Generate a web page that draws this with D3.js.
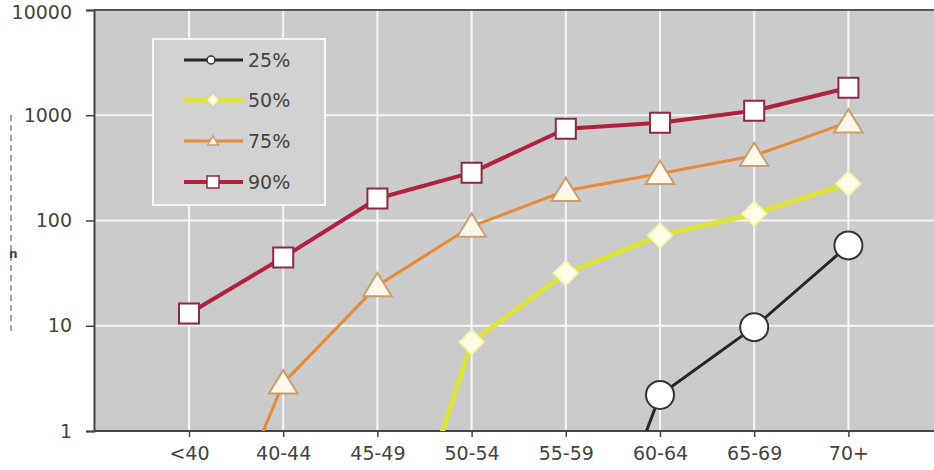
<!DOCTYPE html>
<html lang="en">
<head>
<meta charset="utf-8">
<title>Percentiles by age group</title>
<script src="https://d3js.org/d3.v7.min.js"></script>
<style>
  body { margin: 0; background: #fff; }
  text { font-family: "DejaVu Sans", Arial, sans-serif; fill: #444; }
</style>
</head>
<body>
<script>
// data (values below 1 fall off the log axis and get clipped)
var ageGroups = ["<40", "40-44", "45-49", "50-54", "55-59", "60-64", "65-69", "70+"];
var p25 = [null, null, null, null, 0.009, 2.2, 9.7, 58];
var p50 = [null, null, 0.013, 7.0, 31.5, 72, 116, 224];
var p75 = [0.02, 2.85, 24, 88, 192, 279, 413, 860];
var p90 = [13.1, 44.6, 162, 285, 745, 849, 1104, 1823];
var seriesNames = ["25%", "50%", "75%", "90%"];
var yTicks = [1, 10, 100, 1000, 10000];

var width = 934, height = 470;
var plotLeft = 94, plotTop = 10, plotBottom = 431, plotRight = 960;

var svg = d3.select("body").append("svg")
  .attr("width", width)
  .attr("height", height);

var x = d3.scalePoint().domain(ageGroups).range([189, 848.4]);
var y = d3.scaleLog().domain([1, 10000]).range([plotBottom, plotTop]);

svg.append("defs").append("clipPath").attr("id", "plotclip")
  .append("rect")
  .attr("x", plotLeft).attr("y", plotTop)
  .attr("width", plotRight - plotLeft).attr("height", plotBottom - plotTop);

// plot background
svg.append("rect")
  .attr("x", plotLeft).attr("y", plotTop)
  .attr("width", plotRight - plotLeft).attr("height", plotBottom - plotTop)
  .attr("fill", "#cbcbcb");

// grid lines
svg.selectAll(".vgrid").data(ageGroups).enter().append("line")
  .attr("x1", function(d){ return x(d); })
  .attr("x2", function(d){ return x(d); })
  .attr("y1", plotTop).attr("y2", plotBottom)
  .attr("stroke", "#f6f6f6").attr("stroke-width", 2);

svg.selectAll(".hgrid").data(yTicks.slice(1, 4)).enter().append("line")
  .attr("x1", plotLeft).attr("x2", plotRight)
  .attr("y1", function(d){ return y(d); })
  .attr("y2", function(d){ return y(d); })
  .attr("stroke", "#f6f6f6").attr("stroke-width", 2);

// top border
svg.append("line")
  .attr("x1", plotLeft).attr("x2", plotRight)
  .attr("y1", plotTop).attr("y2", plotTop)
  .attr("stroke", "#555").attr("stroke-width", 2);

// axes
var yAxis = svg.append("g")
  .attr("transform", "translate(" + plotLeft + ",0)")
  .call(d3.axisLeft(y).tickValues(yTicks).tickFormat(d3.format("d")).tickSize(8).tickPadding(14));

var xAxis = svg.append("g")
  .attr("transform", "translate(0," + plotBottom + ")")
  .call(d3.axisBottom(x).tickSize(6).tickPadding(10));

xAxis.select(".domain").attr("d", "M" + plotLeft + ",0H" + plotRight);

[yAxis, xAxis].forEach(function(a){
  a.select(".domain").attr("stroke", "#444").attr("stroke-width", 2);
  a.selectAll(".tick line").attr("stroke", "#444").attr("stroke-width", 1.5);
  a.selectAll(".tick text")
    .style("font-family", "'DejaVu Sans', Arial, sans-serif")
    .style("font-size", "19px")
    .attr("fill", "#4d4d4d");
});

// keep the top label inside the picture
yAxis.selectAll(".tick text")
  .filter(function(d){ return d === 10000; })
  .attr("dy", "0.45em");

// cut-off remnant on the left edge
svg.append("line")
  .attr("x1", 11).attr("x2", 11)
  .attr("y1", 115).attr("y2", 332)
  .attr("stroke", "#666").attr("stroke-width", 1.2)
  .attr("stroke-dasharray", "6,4");
svg.append("text")
  .attr("x", 9).attr("y", 258)
  .style("font-size", "12px").style("font-weight", "bold")
  .text("n");

var series = [
  {name: "25%", values: p25, color: "#262626", width: 3, marker: "circle", mfill: "#fff", mstroke: "#333", size: 14},
  {name: "50%", values: p50, color: "#dfe33c", width: 5, marker: "diamond", mfill: "#fffde8", mstroke: "#f4f5b0", size: 12},
  {name: "75%", values: p75, color: "#e58a35", width: 3, marker: "triangle", mfill: "#fff8ea", mstroke: "#c8a070", size: 13},
  {name: "90%", values: p90, color: "#b0203f", width: 4, marker: "square", mfill: "#fff", mstroke: "#8d2a45", size: 10}
];

function markerPath(type, s) {
  if (type === "square") return "M" + (-s) + "," + (-s) + "H" + s + "V" + s + "H" + (-s) + "Z";
  if (type === "diamond") return "M0," + (-s) + "L" + s + ",0L0," + s + "L" + (-s) + ",0Z";
  if (type === "triangle") return "M0," + (-s) + "L" + (s * 1.1) + "," + (s * 0.8) + "L" + (-s * 1.1) + "," + (s * 0.8) + "Z";
  return null;
}

var line = d3.line()
  .defined(function(d){ return d.v != null; })
  .x(function(d){ return x(d.g); })
  .y(function(d){ return y(d.v); });

var plot = svg.append("g").attr("clip-path", "url(#plotclip)");

series.forEach(function(s){
  var pts = ageGroups.map(function(g, i){ return {g: g, v: s.values[i]}; });
  plot.append("path")
    .datum(pts)
    .attr("d", line)
    .attr("fill", "none")
    .attr("stroke", s.color)
    .attr("stroke-width", s.width)
    .attr("stroke-linejoin", "round");

  var visible = pts.filter(function(d){ return d.v != null && d.v >= 1; });
  if (s.marker === "circle") {
    plot.selectAll(null).data(visible).enter().append("circle")
      .attr("cx", function(d){ return x(d.g); })
      .attr("cy", function(d){ return y(d.v); })
      .attr("r", s.size)
      .attr("fill", s.mfill).attr("stroke", s.mstroke).attr("stroke-width", 2);
  } else {
    plot.selectAll(null).data(visible).enter().append("path")
      .attr("transform", function(d){ return "translate(" + x(d.g) + "," + y(d.v) + ")"; })
      .attr("d", markerPath(s.marker, s.size))
      .attr("fill", s.mfill).attr("stroke", s.mstroke).attr("stroke-width", 2);
  }
});

// legend
var lg = svg.append("g");
lg.append("rect")
  .attr("x", 153).attr("y", 39).attr("width", 172).attr("height", 166)
  .attr("fill", "#d2d2d2").attr("stroke", "#f6f6f6").attr("stroke-width", 2);

var legendY = [60, 100, 141, 182];
series.forEach(function(s, i){
  var ly = legendY[i];
  lg.append("line")
    .attr("x1", 184).attr("x2", 243).attr("y1", ly).attr("y2", ly)
    .attr("stroke", s.color).attr("stroke-width", s.width);
  if (s.marker === "circle") {
    lg.append("circle").attr("cx", 211).attr("cy", ly).attr("r", 4)
      .attr("fill", "#fff").attr("stroke", s.mstroke).attr("stroke-width", 1.5);
  } else {
    lg.append("path")
      .attr("transform", "translate(213," + ly + ")")
      .attr("d", markerPath(s.marker, s.marker === "square" ? 6 : 5))
      .attr("fill", s.mfill).attr("stroke", s.mstroke).attr("stroke-width", 1.5);
  }
  lg.append("text")
    .attr("x", 248).attr("y", ly + 7)
    .style("font-size", "19px")
    .attr("fill", "#444")
    .text(s.name);
});
</script>
</body>
</html>
